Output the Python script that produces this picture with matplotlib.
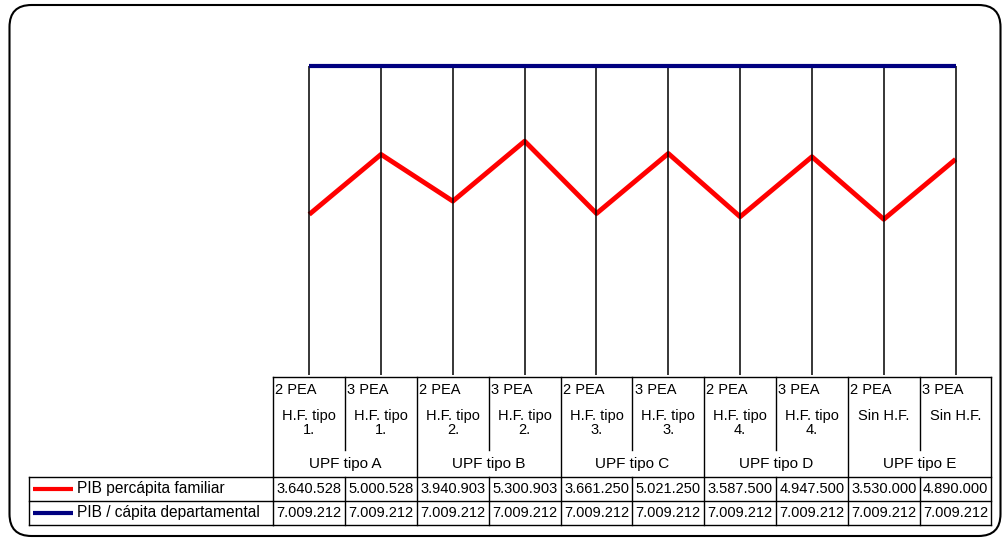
import matplotlib
matplotlib.use("Agg")
import matplotlib.pyplot as plt
import matplotlib.transforms as mtransforms
from matplotlib.patches import FancyBboxPatch

plt.rcParams['font.family'] = ['Liberation Sans', 'DejaVu Sans']

# data
pea_labels = ['2 PEA', '3 PEA'] * 5
hf_labels = ['H.F. tipo\n1.', 'H.F. tipo\n1.', 'H.F. tipo\n2.', 'H.F. tipo\n2.',
             'H.F. tipo\n3.', 'H.F. tipo\n3.', 'H.F. tipo\n4.', 'H.F. tipo\n4.',
             'Sin H.F.', 'Sin H.F.']
upf_groups = ['UPF tipo A', 'UPF tipo B', 'UPF tipo C', 'UPF tipo D', 'UPF tipo E']
pib_familiar = [3640528, 5000528, 3940903, 5300903, 3661250,
                5021250, 3587500, 4947500, 3530000, 4890000]
pib_departamental = [7009212] * 10
series_names = ['PIB percápita familiar', 'PIB / cápita departamental']
series_colors = ['#ff0000', '#000080']

W, H = 1003, 538
fig = plt.figure(figsize=(W / 100, H / 100), dpi=100)

# background axes in pixel units (for the frame and table layout)
bg = fig.add_axes([0, 0, 1, 1])
bg.set_xlim(0, W)
bg.set_ylim(H, 0)
bg.axis('off')
bg.add_patch(FancyBboxPatch((9.5, 5), 991, 531,
                            boxstyle='round,pad=0,rounding_size=22',
                            fc='white', ec='black', lw=1.5))

# plot area
x_left, x_right = 273.3, 991.5
y_zero, y_top = 375.0, 22.1
ax = fig.add_axes([x_left / W, (H - y_zero) / H,
                   (x_right - x_left) / W, (y_zero - y_top) / H])
ax.set_xlim(-0.5, 9.5)
ax.set_ylim(0, 8000000)
ax.axis('off')

n = len(pib_familiar)
xs = list(range(n))
tops = [max(a, b) for a, b in zip(pib_familiar, pib_departamental)]
ax.vlines(xs, 0, tops, colors='black', lw=1.1, zorder=3, clip_on=False)
ax.plot(xs, pib_departamental, color=series_colors[1], lw=3.0,
        solid_capstyle='butt', zorder=4, clip_on=False)
ax.plot(xs, pib_familiar, color=series_colors[0], lw=3.5,
        solid_capstyle='butt', zorder=2, clip_on=False)

# data table: x in category units, y in pixels
tr = mtransforms.blended_transform_factory(ax.transData, bg.transData)
y_head, y_inner, y_upf, y_r1, y_r2 = 377, 450, 477, 501, 525
legend_left = 29
lkw = dict(color='black', lw=1.0)
fs = 10.5

bg.plot([-0.5, 9.5], [y_head, y_head], transform=tr, **lkw)
for y in (y_upf, y_r1, y_r2):
    bg.plot([legend_left, x_left], [y, y], **lkw)
    bg.plot([-0.5, 9.5], [y, y], transform=tr, **lkw)
bg.plot([legend_left, legend_left], [y_upf, y_r2], **lkw)

for k in range(n + 1):
    xb = k - 0.5
    if k in (0, n) or k % 2 == 0:
        bg.plot([xb, xb], [y_head, y_r2], transform=tr, **lkw)
    else:
        bg.plot([xb, xb], [y_head, y_inner], transform=tr, **lkw)
        bg.plot([xb, xb], [y_upf, y_r2], transform=tr, **lkw)

for i in range(n):
    bg.text(i - 0.47, 390, pea_labels[i], transform=tr, ha='left',
            va='center', fontsize=fs)
    bg.text(i, 409, hf_labels[i], transform=tr, ha='center', va='top',
            fontsize=fs, linespacing=1.0)
    bg.text(i, (y_upf + y_r1) / 2, f'{pib_familiar[i]:,}'.replace(',', '.'),
            transform=tr, ha='center', va='center', fontsize=fs)
    bg.text(i, (y_r1 + y_r2) / 2, f'{pib_departamental[i]:,}'.replace(',', '.'),
            transform=tr, ha='center', va='center', fontsize=fs)
for g, name in enumerate(upf_groups):
    bg.text(2 * g + 0.5, 464, name, transform=tr, ha='center', va='center',
            fontsize=fs + 0.5)

# legend keys in the table
for j, (name, col) in enumerate(zip(series_names, series_colors)):
    yc = [(y_upf + y_r1) / 2, (y_r1 + y_r2) / 2][j]
    bg.plot([33, 73], [yc, yc], color=col, lw=3.0, solid_capstyle='butt')
    bg.text(77, yc, name, ha='left', va='center', fontsize=fs + 0.7)

fig.savefig('out.png', dpi=100)
